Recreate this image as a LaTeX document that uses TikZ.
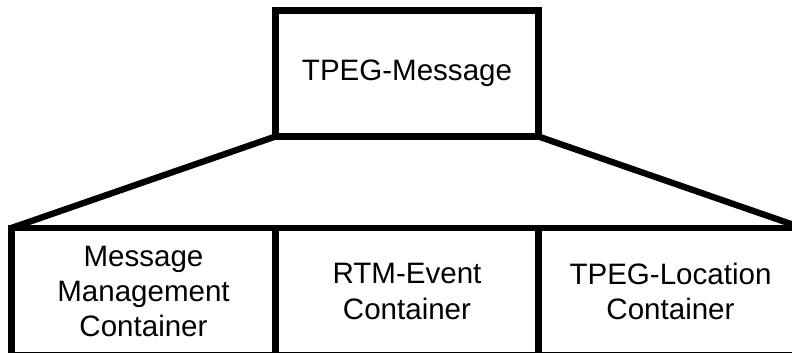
\documentclass[tikz,border=0pt]{standalone}
\usepackage{fontspec}
\setmainfont{Liberation Sans}
\begin{document}
\begin{tikzpicture}[x=0.025cm,y=-0.025cm]
\tikzstyle{box}=[draw,rectangle,line width=4.5pt,inner sep=0pt,outer sep=0pt,align=center,font=\fontsize{21}{25}\selectfont];
\tikzstyle{head}=[box,minimum width=6.575cm,minimum height=3.15cm];
\tikzstyle{cont}=[box,minimum width=6.6cm,minimum height=3.175cm];
\tikzstyle{link}=[line width=4.5pt,line cap=round];
\useasboundingbox (0,0) rectangle (792,353);
\clip (0,0) rectangle (792,353);
\node [head] (v1) at (407,73.5) {TPEG-Message};
\node [cont] (v2) at (143.5,291.5) {Message\\Management\\Container};
\node [cont] (v3) at (407,291.5) {RTM-Event\\Container};
\node [cont] (v4) at (670.5,291.5) {TPEG-Location\\Container};
\draw [link] (v1.south west) -- (v2.north west);
\draw [link] (v1.south east) -- (v4.north east);
\end{tikzpicture}
\end{document}
